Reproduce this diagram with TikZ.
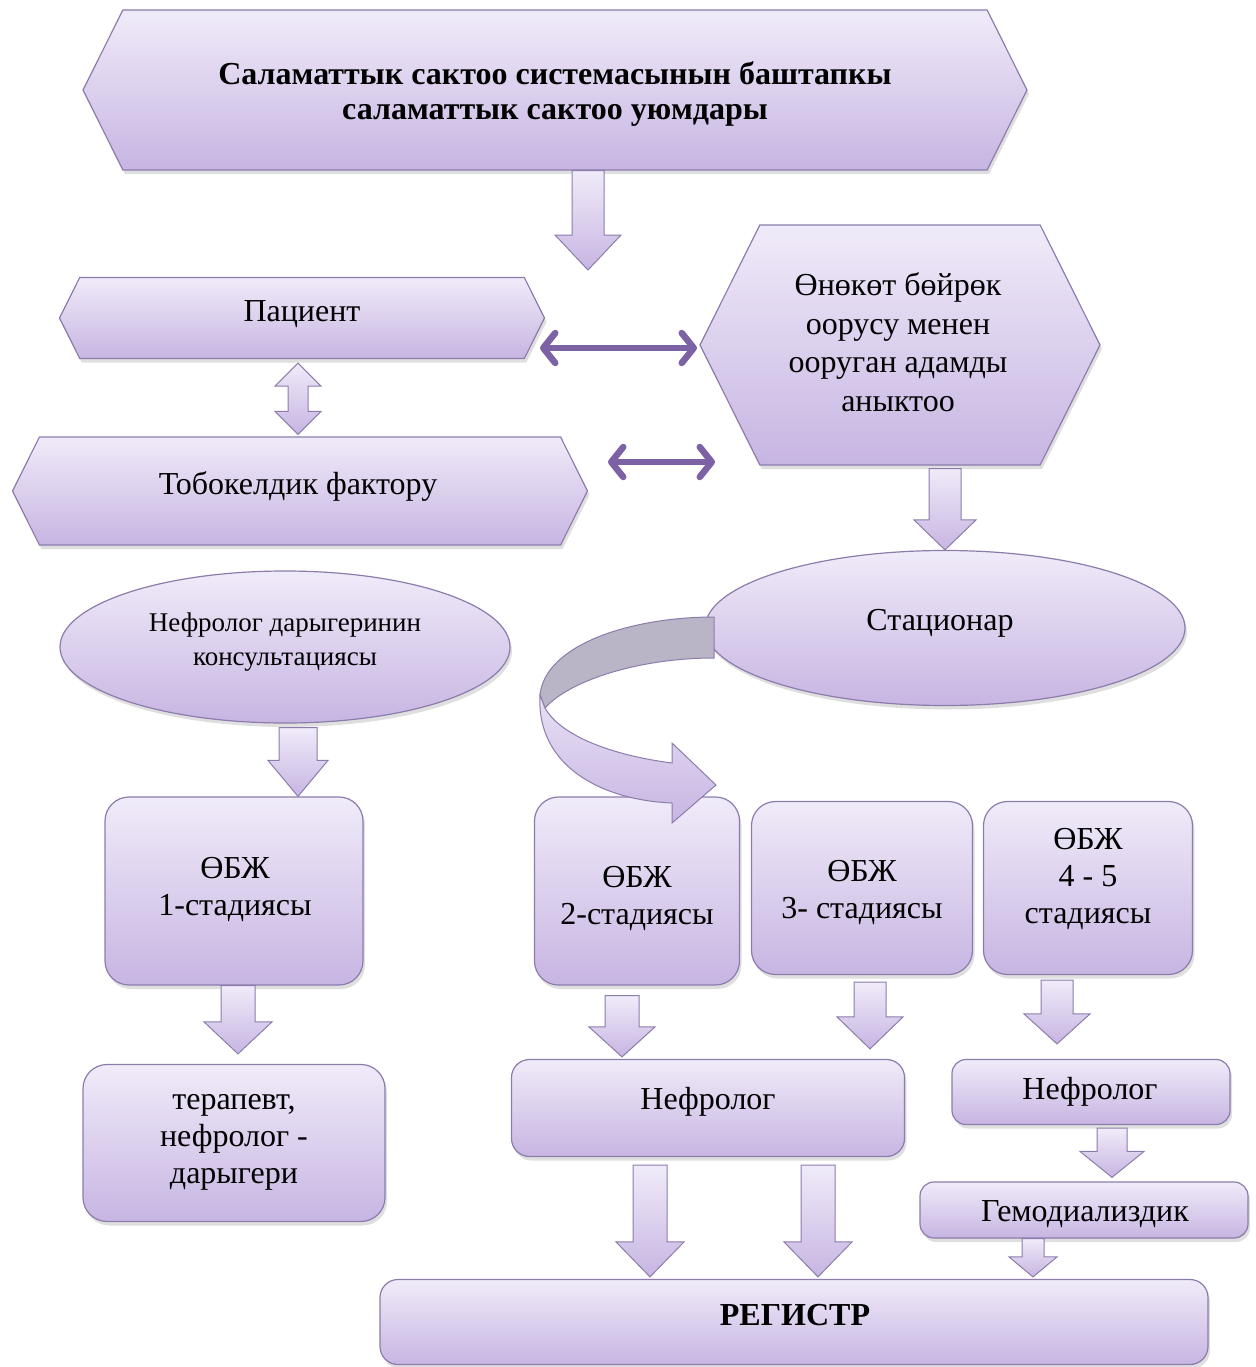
\documentclass[tikz,border=0pt]{standalone}
\usepackage{fontspec}
\setmainfont{Liberation Serif}
\usepackage{xcolor}
\usetikzlibrary{positioning,calc,shapes.symbols,shapes.geometric,shadows,arrows.meta}

\definecolor{lavtop}{RGB}{240,235,249}
\definecolor{lavbot}{RGB}{199,181,226}
\definecolor{lavline}{RGB}{140,124,172}
\definecolor{arrowpurple}{RGB}{124,98,165}
\definecolor{backgray}{RGB}{186,181,198}

\begin{document}
\begin{tikzpicture}[x=1pt,y=-1pt,
    box/.style={draw=lavline,line width=1.2pt,top color=lavtop,bottom color=lavbot,
      drop shadow={shadow xshift=2pt,shadow yshift=-4pt,opacity=0.25}},
    hexa/.style={box,shape=signal,signal to=west and east,signal pointer angle=127},
    oval/.style={box,shape=ellipse,inner sep=0pt},
    stage/.style={box,rounded corners=24pt,inner sep=0pt},
    txt/.style={align=center,inner sep=0pt,font=\fontsize{32}{37}\selectfont},
    blockarrow/.style n args={3}{draw=lavline,line width=1pt,top color=lavtop,bottom color=lavbot,
      to path={let \p1=(\tikztostart),\p2=(\tikztotarget) in
        (\x1-#1pt,\y1) -- (\x1-#1pt,\y2+#3pt) -- (\x1-#2pt,\y2+#3pt) -- (\x1,\y2)
        -- (\x1+#2pt,\y2+#3pt) -- (\x1+#1pt,\y2+#3pt) -- (\x1+#1pt,\y1) -- cycle}},
    updown/.style={draw=lavline,line width=1pt,top color=lavtop,bottom color=lavbot,
      to path={let \p1=(\tikztostart),\p2=(\tikztotarget) in
        (\x1,\y1) -- (\x1-23pt,\y1-23pt) -- (\x1-10pt,\y1-23pt) -- (\x1-10pt,\y2+23pt)
        -- (\x1-23pt,\y2+23pt) -- (\x1,\y2) -- (\x1+23pt,\y2+23pt) -- (\x1+10pt,\y2+23pt)
        -- (\x1+10pt,\y1-23pt) -- (\x1+23pt,\y1-23pt) -- cycle}},
    dblarrow/.style={draw=arrowpurple,line width=6.5pt,line cap=round,
      arrows={Straight Barb[round,length=12pt,width=30pt]-Straight Barb[round,length=12pt,width=30pt]}}
  ]
  \useasboundingbox (0,0) rectangle (1255,1367);

  % top level
  \node[hexa,minimum width=944pt,minimum height=160pt] (prim) at (555,90) {};
  \node[txt,font=\bfseries\fontsize{32}{35}\selectfont] (primT) at (555,94)
    {Саламаттык сактоо системасынын баштапкы\\саламаттык сактоо уюмдары};

  % patient and risk factor
  \node[hexa,minimum width=485pt,minimum height=81pt] (pat) at (302,318) {};
  \node[txt] (patT) at (302,314) {Пациент};
  \node[hexa,minimum width=575pt,minimum height=108pt] (risk) at (300,491) {};
  \node[txt] (riskT) at (298,486) {Тобокелдик фактору};
  \node[hexa,minimum width=400pt,minimum height=240pt] (ckd) at (900,345) {};
  \node[txt,font=\fontsize{32}{38.5}\selectfont] (ckdT) at (898,342)
    {Өнөкөт бөйрөк\\оорусу менен\\ооруган адамды\\аныктоо};

  % ellipses
  \node[oval,minimum width=450pt,minimum height=152pt] (cons) at (285,647) {};
  \node[txt,font=\fontsize{27}{34}\selectfont] (consT) at (285,642) {Нефролог дарыгеринин\\консультациясы};
  \node[oval,minimum width=480pt,minimum height=155pt] (stac) at (945,628) {};
  \node[txt] (stacT) at (940,623) {Стационар};

  % stages
  \node[stage,minimum width=258pt,minimum height=188pt] (st1) at (234,891) {};
  \node[txt] (st1T) at (235,889) {ӨБЖ\\1-стадиясы};
  \node[stage,minimum width=205pt,minimum height=188pt] (st2) at (637,891) {};
  \node[txt] (st2T) at (637,898) {ӨБЖ\\2-стадиясы};
  \node[stage,minimum width=221pt,minimum height=173pt] (st3) at (862,888) {};
  \node[txt] (st3T) at (862,892) {ӨБЖ\\3- стадиясы};
  \node[stage,minimum width=209pt,minimum height=173pt] (st4) at (1088,888) {};
  \node[txt] (st4T) at (1088,879) {ӨБЖ\\4 - 5\\стадиясы};

  % doctors
  \node[stage,minimum width=302pt,minimum height=157pt] (ther) at (234,1143) {};
  \node[txt] (therT) at (234,1142) {терапевт,\\нефролог -\\дарыгери};
  \node[stage,rounded corners=18pt,minimum width=393pt,minimum height=97pt] (neph) at (708,1108) {};
  \node[txt] (nephT) at (708,1102) {Нефролог};
  \node[stage,rounded corners=14pt,minimum width=278pt,minimum height=65pt] (neph2) at (1091,1092) {};
  \node[txt] (neph2T) at (1090,1092) {Нефролог};
  \node[stage,rounded corners=14pt,minimum width=328pt,minimum height=56pt] (hemo) at (1084,1210) {};
  \node[txt] (hemoT) at (1085,1214) {Гемодиализдик};
  \node[stage,rounded corners=18pt,minimum width=828pt,minimum height=85pt] (reg) at (794,1322) {};
  \node[txt,font=\bfseries\fontsize{32}{37}\selectfont] (regT) at (795,1315) {РЕГИСТР};

  % free ends
  \coordinate (primtip) at (588,270);
  \coordinate (dblA) at (540,348);
  \coordinate (dblB) at (697,348);
  \coordinate (dblC) at (608,462);
  \coordinate (dblD) at (715,462);

  % block arrows
  \path[blockarrow={16}{33}{35}] ([xshift=33pt]prim.south) to (primtip);
  \path[blockarrow={16}{31}{30}] ([xshift=45pt,yshift=-3pt]ckd.south) to (stac.north);
  \path[blockarrow={19}{30}{36}] ([xshift=13pt,yshift=-4pt]cons.south) to ([xshift=64pt]st1.north);
  \path[blockarrow={17}{34}{32}] ([xshift=4pt]st1.south) to ([xshift=4pt,yshift=10pt]ther.north);
  \path[blockarrow={17}{33}{30}] ([xshift=-15pt,yshift=-10pt]st2.south) to ([xshift=-86pt,yshift=2pt]neph.north);
  \path[blockarrow={16}{33}{32}] ([xshift=8pt,yshift=-7pt]st3.south) to ([xshift=162pt,yshift=10pt]neph.north);
  \path[blockarrow={16}{33}{30}] ([xshift=-31pt,yshift=-5pt]st4.south) to ([xshift=-34pt,yshift=15pt]neph2.north);
  \path[blockarrow={15}{32}{26}] ([xshift=21pt,yshift=-3pt]neph2.south) to ([xshift=28pt,yshift=4pt]hemo.north);
  \path[blockarrow={11}{24}{20}] ([xshift=-51pt]hemo.south) to ([xshift=239pt,yshift=2pt]reg.north);
  \path[blockarrow={17}{34}{35}] ([xshift=-58pt,yshift=-8pt]neph.south) to ([xshift=-144pt,yshift=2pt]reg.north);
  \path[blockarrow={17}{34}{35}] ([xshift=110pt,yshift=-8pt]neph.south) to ([xshift=24pt,yshift=2pt]reg.north);
  \path[updown] ([xshift=-4pt,yshift=-4pt]pat.south) to ([xshift=-2pt,yshift=2pt]risk.north);

  % double arrows
  \draw[dblarrow] (dblA) -- (dblB);
  \draw[dblarrow] (dblC) -- (dblD);

  % curved arrow from Стационар
  \filldraw[draw=lavline,line width=1pt,fill=backgray]
    (714,617) .. controls (630,617) and (545,645) .. (540,695)
    -- (545,708) .. controls (570,680) and (640,658) .. (714,658) -- cycle;
  \path[draw=lavline,line width=1pt,top color=lavtop!80!lavbot,bottom color=lavbot]
    (540,695) .. controls (536,765) and (600,800) .. (672,803) -- (672,823) -- (716,785)
    -- (672,743) -- (672,763) .. controls (610,755) and (560,735) .. (545,708) -- cycle;
\end{tikzpicture}
\end{document}
